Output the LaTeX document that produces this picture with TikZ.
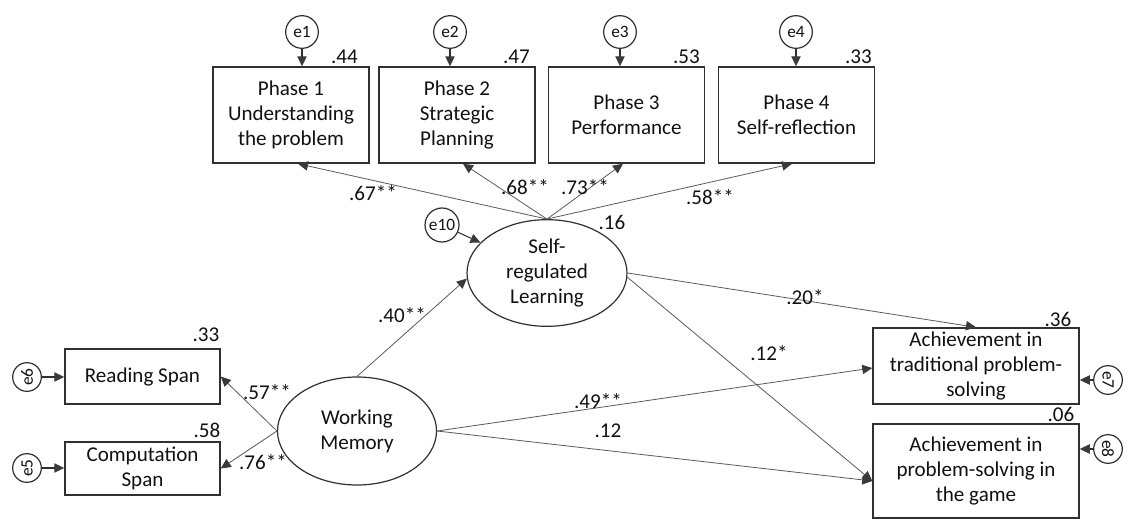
\documentclass[tikz,border=0pt]{standalone}
\usepackage{fontspec}
\setmainfont{Carlito}
\usetikzlibrary{shapes.geometric,arrows.meta,calc}
\definecolor{boxc}{HTML}{303030}
\definecolor{linec}{HTML}{5A5A5A}
\definecolor{tipc}{HTML}{3A3A3A}
\definecolor{txtc}{HTML}{111111}
\newcommand\mainsz{\fontsize{15.8pt}{18.75pt}\selectfont}
\newcommand\errsz{\fontsize{13pt}{15pt}\selectfont}
\tikzset{
  obs/.style={draw=boxc, line width=1.1pt, inner sep=0pt, align=center,
    font=\mainsz, text=txtc, minimum width=117pt, minimum height=72pt},
  lat/.style={ellipse, draw=boxc, line width=0.9pt, inner sep=0pt, align=center,
    font=\mainsz, text=txtc},
  err/.style={circle, draw=boxc, line width=0.9pt, inner sep=0pt,
    font=\errsz, text=txtc, minimum size=24.5pt},
  sideerr/.style={err, minimum size=21.5pt},
  coef/.style={font=\mainsz, text=txtc, inner sep=0pt},
  link/.style={draw=linec, line width=0.6pt,
    -{Triangle[length=7.5pt,width=7pt,color=tipc]}},
  elink/.style={draw=boxc, line width=0.8pt,
    -{Triangle[length=7.5pt,width=7pt,color=tipc]}}
}
\begin{document}
\begin{tikzpicture}[x=0.75pt,y=-0.75pt]
\useasboundingbox (0,0) rectangle (1130,520);

% four phases of self-regulated learning
\node[obs] (P1) at (291,115)   {Phase 1\\Understanding\\the problem};
\node[obs] (P2) at (457,115)   {Phase 2\\Strategic\\Planning};
\node[obs] (P3) at (626.5,115) {Phase 3\\Performance};
\node[obs] (P4) at (796.5,115) {Phase 4\\Self-reflection};

\node[err] (e1) at (302,32) {e1};
\node[err] (e2) at (450,32) {e2};
\node[err] (e3) at (620,32) {e3};
\node[err] (e4) at (796,32) {e4};
\foreach \e/\p in {e1/P1,e2/P2,e3/P3,e4/P4}
  \draw[elink] (\e) -- (\e |- \p.north);

\node[coef, anchor=east] (r1) at (358,57) {.44};
\node[coef, anchor=east] (r2) at (530,57) {.47};
\node[coef, anchor=east] (r3) at (700,57) {.53};
\node[coef, anchor=east] (r4) at (872,57) {.33};

% latent variables
\node[lat, minimum width=120pt, minimum height=80pt] (SRL) at (547,273)
  {Self-\\regulated\\Learning};
\node[lat, minimum width=119.25pt, minimum height=81pt] (WM) at (357,431)
  {Working\\Memory};
\node[err, minimum size=25.5pt] (e10) at (442,225) {e10};
\draw[elink] (e10) -- (SRL);
\node[coef] (r10) at (612,222) {.16};

% loadings of SRL on the phases
\draw[link] (SRL.north) -- ($(P1.south)+(7,0)$);
\draw[link] (SRL.north) -- ($(P2.south)+(6,0)$);
\draw[link] (SRL.north) -- ($(P3.south)+(-3.5,0)$);
\draw[link] (SRL.north) -- ($(P4.south)+(-4.5,0)$);
\node[coef] (c1) at (373,193) {.67**};
\node[coef] (c2) at (525,187) {.68**};
\node[coef] (c3) at (585,187) {.73**};
\node[coef] (c4) at (710,197) {.58**};

% working memory indicators
\node[obs, minimum width=116.25pt, minimum height=41.25pt] (RS) at (142.5,376.5)
  {Reading Span};
\node[obs, minimum width=116.25pt, minimum height=39.75pt] (CS) at (142.5,468.5)
  {Computation\\Span};
\node[sideerr, rotate=90] (e6) at (27,377) {e6};
\node[sideerr, rotate=90] (e5) at (27,468) {e5};
\draw[elink] (e6) -- (e6 -| RS.west);
\draw[elink] (e5) -- (e5 -| CS.west);
\node[coef] (r6) at (206,335) {.33};
\node[coef] (r5) at (207,430) {.58};
\draw[link] (WM.west) -- (RS.east);
\draw[link] (WM.west) -- (CS.east);
\node[coef] (c5) at (267,392) {.57**};
\node[coef] (c6) at (263,462) {.76**};

% structural paths
\draw[link] (WM.north) -- (SRL.184);
\node[coef] (c7) at (402,315) {.40**};

\node[obs, minimum width=154.5pt, minimum height=57pt] (AT) at (976,366)
  {Achievement in\\traditional problem-\\solving};
\node[obs, minimum width=154.5pt, minimum height=70.5pt] (AG) at (976,471)
  {Achievement in\\problem-solving in\\the game};
\node[sideerr, rotate=-90] (e7) at (1108,380) {e7};
\node[sideerr, rotate=-90] (e8) at (1108,449) {e8};
\draw[elink] (e7) -- (e7 -| AT.east);
\draw[elink] (e8) -- (e8 -| AG.east);
\node[coef] (r7) at (1058,319) {.36};
\node[coef] (r8) at (1061,414) {.06};

\coordinate (agin) at ($(AG.west)+(0,10)$);
\draw[link] (SRL.east) -- (AT.north);
\draw[link] (SRL.-3) -- (agin);
\draw[link] (WM.east) -- ($(AT.west)+(0,2)$);
\draw[link] (WM.east) -- (agin);
\node[coef] (c8) at (805,297) {.20*};
\node[coef] (c9) at (769,353) {.12*};
\node[coef] (c10) at (598,401) {.49**};
\node[coef] (c11) at (608,431) {.12};
\end{tikzpicture}
\end{document}
